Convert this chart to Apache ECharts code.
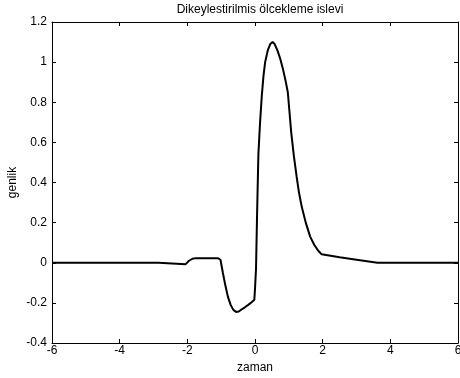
<!DOCTYPE html>
<html><head><meta charset="utf-8">
<script src="https://cdn.jsdelivr.net/npm/echarts@6/dist/echarts.min.js"></script>
<style>html,body{margin:0;padding:0;background:#fff}#c{width:460px;height:378px}</style>
</head><body><div id="c"></div>
<script>
var titleText = "Dikeylestirilmis ölcekleme islevi";
var xName = "zaman";
var yName = "genlik";
var xTicks = [-6, -4, -2, 0, 2, 4, 6];
var yTicks = [-0.4, -0.2, 0, 0.2, 0.4, 0.6, 0.8, 1, 1.2];
var timeVals = [-6, -2.85, -2.84, -2.05, -1.95, -1.85, -1.75, -1.1, -1.02, -0.95, -0.88, -0.8, -0.72, -0.64, -0.56, -0.48, -0.4, -0.3, -0.2, -0.1, -0.02, 0.0, 0.03, 0.06, 0.1, 0.15, 0.2, 0.25, 0.3, 0.38, 0.45, 0.52, 0.58, 0.66, 0.74, 0.82, 0.9, 0.97, 1.02, 1.07, 1.15, 1.23, 1.3, 1.38, 1.5, 1.63, 1.75, 1.87, 1.97, 2.0, 2.5, 3.0, 3.62, 6];
var ampVals = [0, 0, -0.007, -0.007, 0.01, 0.02, 0.023, 0.023, 0.015, -0.05, -0.11, -0.17, -0.21, -0.235, -0.245, -0.243, -0.233, -0.222, -0.21, -0.197, -0.185, -0.13, -0.03, 0.23, 0.54, 0.7, 0.83, 0.93, 1.0, 1.06, 1.09, 1.1, 1.09, 1.06, 1.02, 0.97, 0.91, 0.85, 0.75, 0.65, 0.53, 0.43, 0.35, 0.28, 0.2, 0.13, 0.09, 0.06, 0.042, 0.04, 0.027, 0.015, 0, 0];

var data = timeVals.map(function(t, i){ return [t, ampVals[i]]; });
var font = "Liberation Sans, Arial, sans-serif";
var chart = echarts.init(document.getElementById('c'), null, {renderer: 'canvas'});
function fmt(v){ return String(Math.round(v*10)/10); }
var xBase = {type:'value', min: xTicks[0], max: xTicks[xTicks.length-1], interval: 2,
  axisLine:{show:true, onZero:false, lineStyle:{color:'#000', width:1}},
  axisTick:{show:true, inside:true, length:4, lineStyle:{color:'#000'}},
  splitLine:{show:false}};
var yBase = {type:'value', min: yTicks[0], max: yTicks[yTicks.length-1], interval: 0.2,
  axisLine:{show:true, onZero:false, lineStyle:{color:'#000', width:1}},
  axisTick:{show:true, inside:true, length:4, lineStyle:{color:'#000'}},
  splitLine:{show:false}};
chart.setOption({
  animation:false,
  backgroundColor:'#fff',
  title:{text:titleText, left:255, top:-1, textAlign:'center',
    textStyle:{fontFamily:font, fontSize:12, fontWeight:'normal', color:'#000'}},
  grid:{left:52, right:2, top:22, bottom:35, containLabel:false, outerBoundsMode:'none'},
  xAxis:[
    Object.assign({}, xBase, {position:'bottom', name:xName, nameLocation:'middle', nameGap:19,
      nameTextStyle:{fontFamily:font, fontSize:12, color:'#000'},
      axisLabel:{show:true, margin:2, fontFamily:font, fontSize:12, color:'#000', formatter:fmt}}),
    Object.assign({}, xBase, {position:'top', axisLabel:{show:false}})
  ],
  yAxis:[
    Object.assign({}, yBase, {position:'left', name:yName, nameLocation:'middle', nameGap:33,
      nameMoveOverlap:false,
      nameTextStyle:{fontFamily:font, fontSize:12, color:'#000'},
      axisLabel:{show:true, margin:5, fontFamily:font, fontSize:12, color:'#000', formatter:fmt}}),
    Object.assign({}, yBase, {position:'right', axisLabel:{show:false}})
  ],
  series:[{type:'line', data:data, xAxisIndex:0, yAxisIndex:0, showSymbol:false, smooth:false,
    lineStyle:{color:'#000', width:2}, clip:true}]
});
</script></body></html>
